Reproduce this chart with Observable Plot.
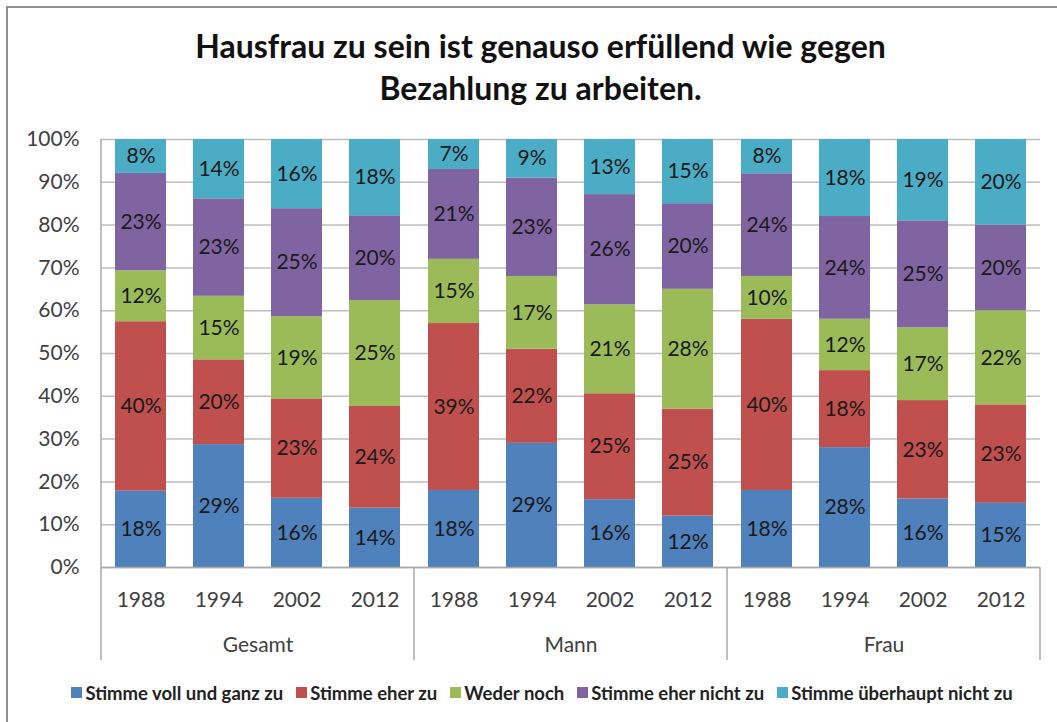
<!DOCTYPE html>
<html>
<head>
<meta charset="utf-8">
<script src="https://cdn.jsdelivr.net/npm/d3@7"></script>
<script src="https://cdn.jsdelivr.net/npm/@observablehq/plot@0.6"></script>
<style>
  html, body { margin: 0; padding: 0; background: #fff; }
  #wrap { position: relative; width: 1057px; height: 722px; overflow: hidden; background: #fff; font-family: Lato, "Open Sans", sans-serif; }
  #border { position: absolute; left: 6px; top: 6px; width: 1200px; height: 900px; border: 2px solid #8f8f8f; box-sizing: border-box; }
  #title { position: absolute; left: 0; top: 25px; width: 1057px; padding-left: 24px; box-sizing: border-box; text-align: center; font-weight: bold; font-size: 32px; line-height: 42px; color: #111; }
  #chart { position: absolute; left: 0; top: 110px; }
  #legend { position: absolute; left: 0; top: 676px; width: 1057px; padding-left: 40px; box-sizing: border-box; display: flex; justify-content: center; }
  #legend span[class$="-swatch"] { margin-right: 13px !important; }
  #legend span[class$="-swatch"] > svg { margin-right: 3px !important; }
</style>
</head>
<body>
<div id="wrap">
  <div id="border"></div>
  <div id="title">Hausfrau zu sein ist genauso erfüllend wie gegen<br>Bezahlung zu arbeiten.</div>
  <div id="chart"></div>
  <div id="legend"></div>
</div>
<script>
const groups = ["Gesamt", "Mann", "Frau"];
const years = ["1988", "1994", "2002", "2012"];
const answers = ["Stimme voll und ganz zu", "Stimme eher zu", "Weder noch", "Stimme eher nicht zu", "Stimme überhaupt nicht zu"];
const colors = ["#4F81BD", "#C0504D", "#9BBB59", "#8064A2", "#4BACC6"];
// values per bar: Gesamt 1988..2012, Mann 1988..2012, Frau 1988..2012
const vollUndGanz = [18, 29, 16, 14, 18, 29, 16, 12, 18, 28, 16, 15];
const eherZu      = [40, 20, 23, 24, 39, 22, 25, 25, 40, 18, 23, 23];
const wederNoch   = [12, 15, 19, 25, 15, 17, 21, 28, 10, 12, 17, 22];
const eherNicht   = [23, 23, 25, 20, 21, 23, 26, 20, 24, 24, 25, 20];
const ueberhaupt  = [8, 14, 16, 18, 7, 9, 13, 15, 8, 18, 19, 20];
const yTicks = [0, 0.1, 0.2, 0.3, 0.4, 0.5, 0.6, 0.7, 0.8, 0.9, 1];

const series = [vollUndGanz, eherZu, wederNoch, eherNicht, ueberhaupt];
const data = [];
groups.forEach((g, gi) => years.forEach((yr, yi) => answers.forEach((a, ai) => {
  data.push({group: g, year: yr, answer: a, value: series[ai][gi * years.length + yi]});
})));

const plot = Plot.plot({
  width: 1057,
  height: 557,
  marginTop: 29,
  marginBottom: 100,
  marginLeft: 100,
  marginRight: 17,
  style: {fontFamily: "Lato, 'Open Sans', sans-serif", fontSize: "21px", color: "#404040", background: "transparent", overflow: "visible"},
  fx: {domain: groups, padding: 0, label: null},
  x: {domain: years, paddingInner: 0.35, paddingOuter: 0.175, label: null},
  y: {domain: [0, 1], label: null},
  color: {domain: answers, range: colors},
  marks: [
    Plot.gridY(yTicks, {stroke: "#bdbdbd", strokeOpacity: 1, strokeWidth: 1.5}),
    Plot.barY(data, {fx: "group", x: "year", y: "value", fill: "answer", order: answers, offset: "normalize"}),
    Plot.text(data, Plot.stackY({fx: "group", x: "year", y: "value", z: "answer", order: answers, offset: "normalize",
      text: d => d.value + "%", fill: "#1a1a1a", fontSize: 21})),
    Plot.ruleY([0], {stroke: "#a8a8a8", strokeWidth: 1.5}),
    Plot.axisY({ticks: yTicks, tickFormat: d3.format(".0%"), tickSize: 0, tickPadding: 22, fontSize: 21, label: null}),
    Plot.axisX({tickSize: 0, tickPadding: 25, fontSize: 21, label: null}),
    Plot.axisFx({anchor: "bottom", tickSize: 0, tickPadding: 70, fontSize: 21, label: null})
  ]
});

// group separators drawn from the plot's own fx / y scales
const fx = plot.scale("fx");
const ys = plot.scale("y");
const y0 = ys.apply(0), y1 = ys.apply(1), yBottom = y0 + 93;
const svg = d3.select(plot);
const edges = groups.map(g => fx.apply(g)).concat([fx.apply(groups[groups.length - 1]) + fx.bandwidth]);
edges.forEach((ex, i) => {
  svg.append("line")
    .attr("x1", ex).attr("x2", ex)
    .attr("y1", i === 0 ? y1 : y0).attr("y2", yBottom)
    .attr("stroke", "#a8a8a8").attr("stroke-width", 1.5);
});
document.getElementById("chart").appendChild(plot);

const legend = Plot.legend({
  color: {domain: answers, range: colors},
  swatchSize: 11,
  style: {fontFamily: "Lato, 'Open Sans', sans-serif", fontSize: "18.5px", color: "#222", fontWeight: "bold"}
});
document.getElementById("legend").appendChild(legend);
</script>
</body>
</html>
